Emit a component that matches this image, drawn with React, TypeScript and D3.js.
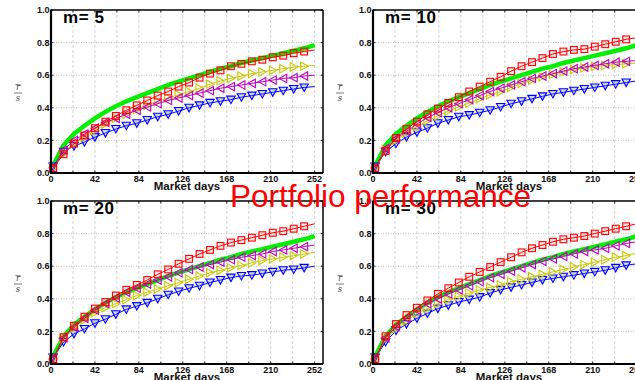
import React from "react";
import * as d3 from "d3";

const DAYS = [2, 12, 22, 32, 42, 52, 62, 72, 82, 92, 102, 112, 122, 132, 142, 152, 162, 172, 182, 192, 202, 212, 222, 232, 242, 252];
const X_TICKS = [0, 42, 84, 126, 168, 210, 252];
const X_GRID = [21, 42, 63, 84, 105, 126, 147, 168, 189, 210, 231, 252];
const Y_TICKS = [0, 0.2, 0.4, 0.6, 0.8, 1.0];
const PANEL_TITLES = ["m= 5", "m= 10", "m= 20", "m= 30"];

const GREEN = [0.045, 0.17, 0.24, 0.29, 0.335, 0.375, 0.41, 0.44, 0.465, 0.49, 0.515, 0.54, 0.56, 0.58, 0.6, 0.62, 0.64, 0.655, 0.675, 0.69, 0.705, 0.72, 0.735, 0.75, 0.765, 0.785];

const RED_M5 = [0.03, 0.115, 0.18, 0.23, 0.275, 0.315, 0.35, 0.385, 0.415, 0.445, 0.475, 0.5, 0.53, 0.555, 0.585, 0.61, 0.63, 0.655, 0.67, 0.685, 0.695, 0.71, 0.72, 0.735, 0.745, 0.755];
const YEL_M5 = [0.03, 0.12, 0.18, 0.22, 0.26, 0.3, 0.335, 0.36, 0.39, 0.415, 0.44, 0.46, 0.48, 0.5, 0.52, 0.545, 0.565, 0.58, 0.595, 0.61, 0.62, 0.63, 0.64, 0.65, 0.655, 0.66];
const MAG_M5 = [0.03, 0.14, 0.2, 0.24, 0.275, 0.31, 0.335, 0.36, 0.385, 0.405, 0.425, 0.445, 0.46, 0.475, 0.49, 0.505, 0.52, 0.53, 0.54, 0.55, 0.56, 0.57, 0.58, 0.585, 0.595, 0.6];
const BLU_M5 = [0.04, 0.13, 0.165, 0.19, 0.22, 0.245, 0.27, 0.29, 0.305, 0.325, 0.345, 0.36, 0.38, 0.4, 0.415, 0.43, 0.44, 0.45, 0.465, 0.475, 0.485, 0.495, 0.505, 0.515, 0.525, 0.53];

const RED_M10 = [0.03, 0.135, 0.215, 0.27, 0.315, 0.36, 0.395, 0.43, 0.465, 0.5, 0.53, 0.56, 0.59, 0.625, 0.655, 0.68, 0.705, 0.73, 0.745, 0.755, 0.76, 0.775, 0.79, 0.805, 0.82, 0.83];
const YEL_M10 = [0.03, 0.14, 0.2, 0.245, 0.285, 0.32, 0.35, 0.38, 0.405, 0.43, 0.455, 0.48, 0.5, 0.525, 0.55, 0.57, 0.59, 0.605, 0.62, 0.635, 0.645, 0.655, 0.66, 0.665, 0.67, 0.675];
const MAG_M10 = [0.03, 0.15, 0.21, 0.255, 0.3, 0.34, 0.37, 0.4, 0.425, 0.45, 0.475, 0.5, 0.52, 0.54, 0.56, 0.58, 0.595, 0.61, 0.625, 0.64, 0.65, 0.66, 0.67, 0.68, 0.685, 0.69];
const BLU_M10 = [0.04, 0.13, 0.18, 0.22, 0.25, 0.275, 0.305, 0.325, 0.345, 0.355, 0.37, 0.385, 0.405, 0.425, 0.44, 0.455, 0.47, 0.485, 0.495, 0.505, 0.515, 0.525, 0.535, 0.545, 0.555, 0.565];

const RED_M20 = [0.03, 0.165, 0.235, 0.29, 0.34, 0.38, 0.42, 0.455, 0.485, 0.515, 0.55, 0.58, 0.615, 0.645, 0.675, 0.7, 0.725, 0.745, 0.76, 0.775, 0.79, 0.805, 0.815, 0.83, 0.845, 0.86];
const YEL_M20 = [0.03, 0.155, 0.22, 0.27, 0.315, 0.345, 0.37, 0.395, 0.42, 0.44, 0.46, 0.48, 0.5, 0.52, 0.54, 0.56, 0.575, 0.59, 0.605, 0.62, 0.635, 0.645, 0.655, 0.665, 0.675, 0.685];
const MAG_M20 = [0.03, 0.16, 0.225, 0.28, 0.33, 0.37, 0.405, 0.44, 0.465, 0.49, 0.515, 0.535, 0.56, 0.58, 0.595, 0.61, 0.625, 0.64, 0.655, 0.665, 0.675, 0.69, 0.7, 0.71, 0.72, 0.73];
const BLU_M20 = [0.04, 0.135, 0.185, 0.215, 0.25, 0.275, 0.305, 0.335, 0.355, 0.375, 0.4, 0.425, 0.445, 0.465, 0.48, 0.5, 0.515, 0.53, 0.54, 0.545, 0.555, 0.565, 0.575, 0.58, 0.59, 0.6];

const RED_M30 = [0.03, 0.17, 0.245, 0.3, 0.345, 0.39, 0.43, 0.465, 0.5, 0.535, 0.565, 0.595, 0.625, 0.655, 0.685, 0.71, 0.73, 0.75, 0.765, 0.775, 0.785, 0.8, 0.815, 0.83, 0.845, 0.86];
const YEL_M30 = [0.03, 0.155, 0.215, 0.265, 0.31, 0.34, 0.37, 0.395, 0.415, 0.435, 0.455, 0.47, 0.485, 0.505, 0.52, 0.535, 0.55, 0.565, 0.58, 0.595, 0.61, 0.625, 0.64, 0.655, 0.665, 0.68];
const MAG_M30 = [0.03, 0.16, 0.23, 0.28, 0.33, 0.37, 0.4, 0.43, 0.455, 0.48, 0.505, 0.53, 0.55, 0.57, 0.59, 0.61, 0.63, 0.645, 0.66, 0.675, 0.69, 0.7, 0.71, 0.725, 0.74, 0.75];
const BLU_M30 = [0.04, 0.135, 0.205, 0.245, 0.28, 0.31, 0.34, 0.36, 0.38, 0.395, 0.41, 0.435, 0.455, 0.47, 0.485, 0.5, 0.515, 0.525, 0.535, 0.545, 0.555, 0.565, 0.575, 0.59, 0.605, 0.615];

const PANEL_DATA = [
  { red: RED_M5, yel: YEL_M5, mag: MAG_M5, blu: BLU_M5 },
  { red: RED_M10, yel: YEL_M10, mag: MAG_M10, blu: BLU_M10 },
  { red: RED_M20, yel: YEL_M20, mag: MAG_M20, blu: BLU_M20 },
  { red: RED_M30, yel: YEL_M30, mag: MAG_M30, blu: BLU_M30 },
];

const PW = 272;
const PH = 163;
const POS = [
  { left: 51, top: 10 },
  { left: 373, top: 10 },
  { left: 51, top: 201 },
  { left: 373, top: 201 },
];

const C_RED = "#ff0000";
const C_YEL = "#c8c800";
const C_MAG = "#c000c0";
const C_BLU = "#0000ff";
const C_GRN = "#00f000";
const FONT = "Liberation Sans, Arial, sans-serif";

const x = d3.scaleLinear().domain([0, 260]).range([0, PW]);
const y = d3.scaleLinear().domain([0, 1]).range([PH, 0]);

function lineOf(vals: number[]) {
  const gen = d3.line<number>().x((_, i) => x(DAYS[i])).y((v) => y(v));
  return gen(vals) || "";
}

function Marker({ type, cx, cy }: { type: string; cx: number; cy: number }) {
  if (type === "sq") {
    const s = 3.4;
    return <rect x={cx - s} y={cy - s} width={2 * s} height={2 * s} fill="rgba(255,0,0,0.1)" stroke={C_RED} strokeWidth={1.1} />;
  }
  if (type === "right") {
    const p = `${cx - 3.5},${cy - 4.2} ${cx + 4},${cy} ${cx - 3.5},${cy + 4.2}`;
    return <polygon points={p} fill="none" stroke={C_YEL} strokeWidth={1.1} />;
  }
  if (type === "left") {
    const p = `${cx + 3.5},${cy - 4.2} ${cx - 4},${cy} ${cx + 3.5},${cy + 4.2}`;
    return <polygon points={p} fill="none" stroke={C_MAG} strokeWidth={1.1} />;
  }
  const p = `${cx - 4.2},${cy - 3.5} ${cx + 4.2},${cy - 3.5} ${cx},${cy + 4}`;
  return <polygon points={p} fill="rgba(90,120,255,0.3)" stroke={C_BLU} strokeWidth={1.1} />;
}

function Series({ vals, color, marker }: { vals: number[]; color: string; marker: string }) {
  return (
    <g>
      <path d={lineOf(vals)} fill="none" stroke={color} strokeWidth={1} />
      {vals.slice(0, vals.length - 1).map((v, i) => (
        <Marker key={i} type={marker} cx={x(DAYS[i])} cy={y(v)} />
      ))}
    </g>
  );
}

function Panel({ idx }: { idx: number }) {
  const { left, top } = POS[idx];
  const d = PANEL_DATA[idx];
  const lblX = idx % 2 === 0 ? 18 : 340;
  const lblY = top + 80;
  return (
    <g>
      <g transform={`translate(${left},${top})`}>
        <rect x={0} y={0} width={PW} height={PH} fill="#fff" />
        {X_GRID.map((g) => (
          <line key={"vg" + g} x1={x(g)} x2={x(g)} y1={0} y2={PH} stroke="#c8c8c8" strokeWidth={0.8} strokeDasharray="3,2" />
        ))}
        {Y_TICKS.filter((t) => t > 0 && t < 1).map((t) => (
          <line key={"hg" + t} x1={0} x2={PW} y1={y(t)} y2={y(t)} stroke="#b0b0b0" strokeWidth={0.8} strokeDasharray="1,1.5" />
        ))}
        <path d={lineOf(GREEN)} fill="none" stroke={C_GRN} strokeWidth={4.5} strokeLinejoin="round" />
        <Series vals={d.blu} color={C_BLU} marker="down" />
        <Series vals={d.yel} color={C_YEL} marker="right" />
        <Series vals={d.mag} color={C_MAG} marker="left" />
        <Series vals={d.red} color={C_RED} marker="sq" />
        <line x1={0} x2={PW} y1={0} y2={0} stroke="#000" strokeWidth={1.5} />
        <line x1={PW} x2={PW} y1={0} y2={PH} stroke="#000" strokeWidth={1.5} />
        <line x1={0} x2={0} y1={-0.5} y2={PH + 1} stroke="#000" strokeWidth={2.2} />
        <line x1={-1} x2={PW} y1={PH} y2={PH} stroke="#000" strokeWidth={2.2} />
        {X_GRID.map((g) => (
          <g key={"xt" + g}>
            <line x1={x(g)} x2={x(g)} y1={PH} y2={PH - 2.5} stroke="#000" strokeWidth={0.8} />
            <line x1={x(g)} x2={x(g)} y1={0} y2={2.5} stroke="#000" strokeWidth={0.8} />
          </g>
        ))}
        {Y_TICKS.map((t) => (
          <g key={"yt" + t}>
            <line x1={0} x2={2.5} y1={y(t)} y2={y(t)} stroke="#000" strokeWidth={0.8} />
            <line x1={PW - 2.5} x2={PW} y1={y(t)} y2={y(t)} stroke="#000" strokeWidth={0.8} />
            <text x={-1.5} y={y(t) + 3.2} textAnchor="end" fontSize={9} fontWeight="bold" fontFamily={FONT} fill="#111">
              {t.toFixed(1)}
            </text>
          </g>
        ))}
        {X_TICKS.map((t) => (
          <text key={"xl" + t} x={x(t)} y={PH + 8.7} textAnchor="middle" fontSize={9} fontWeight="bold" fontFamily={FONT} fill="#111">
            {t}
          </text>
        ))}
        <text x={PW / 2} y={PH + 16.5} textAnchor="middle" fontSize={11.5} fontWeight="bold" fontFamily={FONT} fill="#111">
          Market days
        </text>
        <text x={12} y={13} fontSize={17} fontWeight="bold" letterSpacing={0.6} fontFamily={FONT} fill="#000">
          {PANEL_TITLES[idx]}
        </text>
      </g>
      <g>
        <line x1={lblX - 2.5} x2={lblX + 2.5} y1={lblY - 5.5} y2={lblY - 5.5} stroke="#444" strokeWidth={0.6} />
        <text x={lblX} y={lblY} textAnchor="middle" fontSize={8.5} fontStyle="italic" fontFamily="DejaVu Serif, serif" fill="#444">r</text>
        <line x1={lblX - 4} x2={lblX + 4} y1={lblY + 3} y2={lblY + 3} stroke="#444" strokeWidth={0.7} />
        <text x={lblX} y={lblY + 10.5} textAnchor="middle" fontSize={8.5} fontStyle="italic" fontFamily="DejaVu Serif, serif" fill="#444">s</text>
      </g>
    </g>
  );
}

export default function App() {
  return (
    <svg width={635} height={380} style={{ position: "absolute", left: 0, top: 0, background: "#fff" }}>
      <rect x={0} y={0} width={635} height={380} fill="#fff" />
      {[0, 1, 2, 3].map((i) => (
        <Panel key={i} idx={i} />
      ))}
      <text x={230} y={207} fontSize={31.5} fontFamily={FONT} fill="#ff0000">
        Portfolio performance
      </text>
    </svg>
  );
}
